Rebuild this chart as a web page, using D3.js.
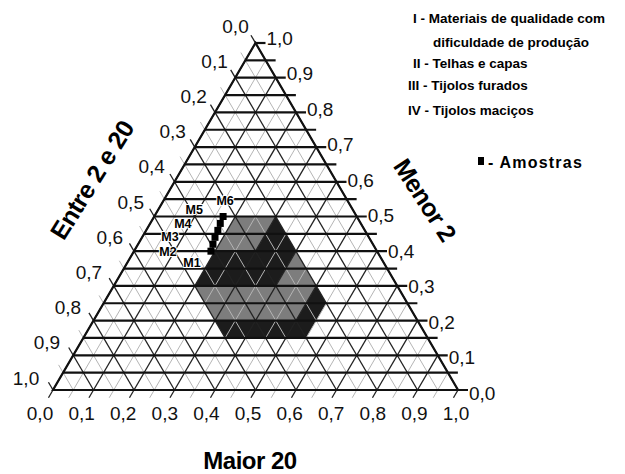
<!DOCTYPE html>
<html>
<head>
<meta charset="utf-8">
<script src="https://cdn.jsdelivr.net/npm/d3@7"></script>
<style>
  body { margin: 0; background: #fff; }
  svg { display: block; font-family: "Liberation Sans", Arial, sans-serif; }
</style>
</head>
<body>
<svg id="chart" width="625" height="474"></svg>
<script>
// ternary points are [maior20, entre2e20, menor2]
const tickValues = [0, 0.1, 0.2, 0.3, 0.4, 0.5, 0.6, 0.7, 0.8, 0.9, 1.0];
const tickLabels = ["0,0", "0,1", "0,2", "0,3", "0,4", "0,5", "0,6", "0,7", "0,8", "0,9", "1,0"];
const gridValues = [0, 0.05, 0.1, 0.15, 0.2, 0.25, 0.3, 0.35, 0.4, 0.45, 0.5,
                    0.55, 0.6, 0.65, 0.7, 0.75, 0.8, 0.85, 0.9, 0.95, 1.0];

// Winkler fields
const regionI   = [[0.2, 0.3, 0.5], [0.3, 0.2, 0.5], [0.3, 0.3, 0.4], [0.2, 0.4, 0.4]];
const regionII  = [[0.3, 0.2, 0.5], [0.4, 0.2, 0.4], [0.4, 0.3, 0.3], [0.2, 0.5, 0.3], [0.2, 0.4, 0.4], [0.3, 0.3, 0.4]];
const regionIII = [[0.4, 0.2, 0.4], [0.5, 0.2, 0.3], [0.5, 0.3, 0.2], [0.3, 0.5, 0.2], [0.2, 0.5, 0.3], [0.4, 0.3, 0.3]];
const regionIV  = [[0.5, 0.2, 0.3], [0.55, 0.2, 0.25], [0.55, 0.3, 0.15], [0.35, 0.5, 0.15], [0.3, 0.5, 0.2], [0.5, 0.3, 0.2]];
const regionFill = ["#7d7d7d", "#1c1c1c", "#7d7d7d", "#1c1c1c"];

// amostras
const sampleNames = ["M1", "M2", "M3", "M4", "M5", "M6"];
const sampleMaior = [0.19, 0.185, 0.18, 0.177, 0.173, 0.17];
const sampleEntre = [0.41, 0.395, 0.38, 0.363, 0.347, 0.33];
const sampleMenor = [0.40, 0.42, 0.44, 0.46, 0.48, 0.50];

const legendLines = ["I - Materiais de qualidade com", "dificuldade de produção",
                     "II - Telhas e capas", "III - Tijolos furados", "IV - Tijolos maciços"];

const svg = d3.select("#chart");

const xs = d3.scaleLinear().domain([0, 1]).range([53, 458]);
const ys = d3.scaleLinear().domain([0, 1]).range([390, 43]);

function px(p) {
  // p = [maior, entre, menor]
  return [xs(p[0] + p[2] / 2), ys(p[2])];
}

const line = d3.line();

// fields first, grid on top
const regions = [regionI, regionII, regionIII, regionIV];
svg.append("g")
  .selectAll("path")
  .data(regions)
  .join("path")
  .attr("d", d => line(d.map(px)) + "Z")
  .attr("fill", (d, i) => regionFill[i]);

const grid = svg.append("g").attr("fill", "none");
const tk = 9;
const dl = [-0.504, 0.864]; // down-left unit
const ul = [-0.504, -0.864]; // up-left unit

// lines parallel to left edge (maior constant), ticks below the base
gridValues.forEach((v, i) => {
  const p0 = px([v, 1 - v, 0]);
  const p1 = px([v, 0, 1 - v]);
  const major = i % 2 == 0;
  grid.append("line")
    .attr("x1", p0[0] + dl[0] * tk).attr("y1", p0[1] + dl[1] * tk)
    .attr("x2", p1[0]).attr("y2", p1[1])
    .attr("stroke", major ? "#222" : "#b5b5b5")
    .attr("stroke-width", major ? 1.3 : 1);
});

// lines parallel to right edge (entre constant), ticks past left edge
gridValues.forEach((v, i) => {
  const p0 = px([1 - v, v, 0]);
  const p1 = px([0, v, 1 - v]);
  const major = i % 2 == 0;
  grid.append("line")
    .attr("x1", p0[0]).attr("y1", p0[1])
    .attr("x2", p1[0] + ul[0] * tk).attr("y2", p1[1] + ul[1] * tk)
    .attr("stroke", major ? "#222" : "#b5b5b5")
    .attr("stroke-width", major ? 1.3 : 1);
});

// horizontal lines (menor constant), ticks past right edge
gridValues.forEach(v => {
  const p0 = px([0, 1 - v, v]);
  const p1 = px([1 - v, 0, v]);
  grid.append("line")
    .attr("x1", p0[0]).attr("y1", p0[1])
    .attr("x2", p1[0] + tk + 1).attr("y2", p1[1])
    .attr("stroke", "#111")
    .attr("stroke-width", 2.2);
});

// outline
svg.append("path")
  .attr("d", line([px([0, 1, 0]), px([1, 0, 0]), px([0, 0, 1])]) + "Z")
  .attr("fill", "none")
  .attr("stroke", "#111")
  .attr("stroke-width", 2.2);

// tick labels
const labels = svg.append("g").attr("font-size", 19).attr("fill", "#111");

// Maior 20 (base)
labels.selectAll(".lb")
  .data(tickValues)
  .join("text")
  .attr("class", "lb")
  .attr("x", (d, i) => 40 + 416 * d)
  .attr("y", 420)
  .attr("text-anchor", "middle")
  .text((d, i) => tickLabels[i]);

// Entre 2 e 20 (left)
labels.selectAll(".ll")
  .data(tickValues)
  .join("text")
  .attr("class", "ll")
  .attr("x", d => px([0, d, 1 - d])[0] - 20 - 7 * d)
  .attr("y", d => px([0, d, 1 - d])[1] - 17 + 5 * d)
  .attr("dy", "0.35em")
  .attr("text-anchor", "middle")
  .text((d, i) => tickLabels[i]);

// Menor 2 (right)
labels.selectAll(".lr")
  .data(tickValues)
  .join("text")
  .attr("class", "lr")
  .attr("x", d => px([1 - d, 0, d])[0] + 11)
  .attr("y", d => px([1 - d, 0, d])[1] + 3 - 8 * d)
  .attr("dy", "0.35em")
  .attr("text-anchor", "start")
  .text((d, i) => tickLabels[i]);

// axis titles
svg.append("text")
  .attr("x", 250).attr("y", 469)
  .attr("text-anchor", "middle")
  .attr("font-size", 24).attr("font-weight", "bold")
  .attr("letter-spacing", -0.5)
  .text("Maior 20");

svg.append("text")
  .attr("transform", "translate(92,180) rotate(-58)")
  .attr("text-anchor", "middle").attr("dy", "0.35em")
  .attr("font-size", 25).attr("font-weight", "bold")
  .attr("letter-spacing", -0.5)
  .text("Entre 2 e 20");

svg.append("text")
  .attr("transform", "translate(425,200) rotate(57)")
  .attr("text-anchor", "middle").attr("dy", "0.35em")
  .attr("font-size", 25).attr("font-weight", "bold")
  .attr("letter-spacing", -0.5)
  .text("Menor 2");

// samples
const samples = sampleNames.map((n, i) => ({
  name: n, p: px([sampleMaior[i], sampleEntre[i], sampleMenor[i]])
}));
svg.append("g")
  .selectAll("rect")
  .data(samples)
  .join("rect")
  .attr("x", d => d.p[0] - 3.5)
  .attr("y", d => d.p[1] - 3.5)
  .attr("width", 7).attr("height", 7)
  .attr("fill", "#000");

const labelOffsets = [[-19, 11], [-45, 7], [-45, -1], [-35, -7], [-26, -14], [2, -16]];
svg.append("g")
  .selectAll("text")
  .data(samples)
  .join("text")
  .attr("x", (d, i) => d.p[0] + labelOffsets[i][0])
  .attr("y", (d, i) => d.p[1] + labelOffsets[i][1])
  .attr("dy", "0.35em")
  .attr("text-anchor", "middle")
  .attr("font-size", 12.5).attr("font-weight", "bold")
  .attr("stroke", "#fff").attr("stroke-width", 2).attr("paint-order", "stroke")
  .text(d => d.name);

// legend
const legendX = [413, 433, 413, 408, 408];
const legendY = [23, 47, 68, 90, 115];
svg.append("g")
  .attr("font-size", 13.5).attr("font-weight", "bold")
  .selectAll("text")
  .data(legendLines)
  .join("text")
  .attr("x", (d, i) => legendX[i])
  .attr("y", (d, i) => legendY[i])
  .text(d => d);

svg.append("rect")
  .attr("x", 478).attr("y", 157).attr("width", 6).attr("height", 8)
  .attr("fill", "#000");
svg.append("text")
  .attr("x", 488).attr("y", 168)
  .attr("font-size", 16).attr("font-weight", "bold")
  .attr("letter-spacing", 1.2)
  .text("- Amostras");
</script>
</body>
</html>
